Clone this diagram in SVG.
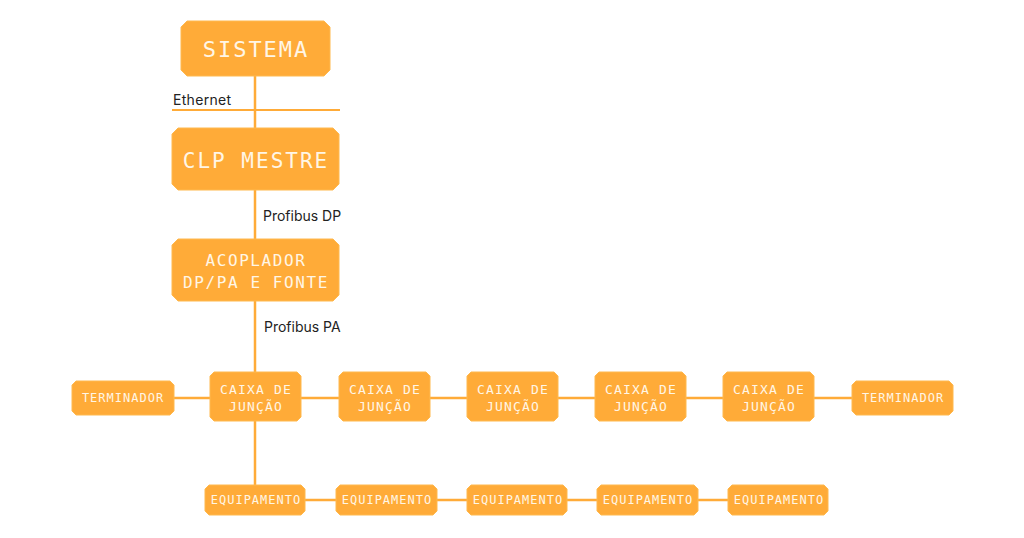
<svg xmlns="http://www.w3.org/2000/svg" width="1024" height="538" viewBox="0 0 1024 538">
<style>
.n{fill:#FFAB38;stroke:#FFB94F;stroke-width:1}
.t{font-family:"DejaVu Sans Mono","Liberation Mono",monospace;fill:#FFF6E6;text-anchor:middle}
.c{stroke:#FFAB38;stroke-width:2.5;fill:none}
.l{font-family:Inter,"Noto Sans",sans-serif;font-size:14px;fill:#222}
</style>
<rect width="1024" height="538" fill="#fff"/>
<g id="connectors">
<path class="c" d="M255 76V373M255 421V486M174 398H852M305 500H728"/>
<path d="M172 110H340" stroke="#FFAB38" stroke-width="2"/>
</g>
<g class="l">
<text x="173" y="105" letter-spacing="0.3">Ethernet</text>
<text x="263" y="221">Profibus DP</text>
<text x="264" y="332">Profibus PA</text>
</g>
<g id="sistema"><path class="n" d="M187 21H324L330 27V70L324 76H187L181 70V27Z"/><text class="t" x="256" y="57" font-size="22" letter-spacing="2">SISTEMA</text></g>
<g id="clp"><path class="n" d="M178 128H333L339 134V184L333 190H178L172 184V134Z"/><text class="t" x="256" y="168" font-size="21" letter-spacing="2">CLP MESTRE</text></g>
<g id="acoplador"><path class="n" d="M178 239H333L339 245V295L333 301H178L172 295V245Z"/><text class="t" font-size="16" letter-spacing="1.6"><tspan x="256" y="266">ACOPLADOR</tspan><tspan x="256" y="288">DP/PA E FONTE</tspan></text></g>
<g id="term1"><path class="n" d="M76 381H170L174 385V411L170 415H76L72 411V385Z"/><text class="t" x="123" y="402" font-size="12" letter-spacing="1">TERMINADOR</text></g>
<g id="cx1"><path class="n" d="M214 372H297L301 376V417L297 421H214L210 417V376Z"/><text class="t" font-size="13" letter-spacing="1.2"><tspan x="256" y="394">CAIXA DE</tspan><tspan x="256" y="411">JUNÇÃO</tspan></text></g>
<g id="cx2"><path class="n" d="M343 372H426L430 376V417L426 421H343L339 417V376Z"/><text class="t" font-size="13" letter-spacing="1.2"><tspan x="385" y="394">CAIXA DE</tspan><tspan x="385" y="411">JUNÇÃO</tspan></text></g>
<g id="cx3"><path class="n" d="M471 372H554L558 376V417L554 421H471L467 417V376Z"/><text class="t" font-size="13" letter-spacing="1.2"><tspan x="513" y="394">CAIXA DE</tspan><tspan x="513" y="411">JUNÇÃO</tspan></text></g>
<g id="cx4"><path class="n" d="M599 372H682L686 376V417L682 421H599L595 417V376Z"/><text class="t" font-size="13" letter-spacing="1.2"><tspan x="641" y="394">CAIXA DE</tspan><tspan x="641" y="411">JUNÇÃO</tspan></text></g>
<g id="cx5"><path class="n" d="M727 372H810L814 376V417L810 421H727L723 417V376Z"/><text class="t" font-size="13" letter-spacing="1.2"><tspan x="769" y="394">CAIXA DE</tspan><tspan x="769" y="411">JUNÇÃO</tspan></text></g>
<g id="term2"><path class="n" d="M856 381H949L953 385V411L949 415H856L852 411V385Z"/><text class="t" x="903" y="402" font-size="12" letter-spacing="1">TERMINADOR</text></g>
<g id="eq1"><path class="n" d="M209 485H301L305 489V511L301 515H209L205 511V489Z"/><text class="t" x="256" y="504" font-size="12" letter-spacing="1">EQUIPAMENTO</text></g>
<g id="eq2"><path class="n" d="M340 485H433L437 489V511L433 515H340L336 511V489Z"/><text class="t" x="387" y="504" font-size="12" letter-spacing="1">EQUIPAMENTO</text></g>
<g id="eq3"><path class="n" d="M471 485H563L567 489V511L563 515H471L467 511V489Z"/><text class="t" x="518" y="504" font-size="12" letter-spacing="1">EQUIPAMENTO</text></g>
<g id="eq4"><path class="n" d="M601 485H694L698 489V511L694 515H601L597 511V489Z"/><text class="t" x="648" y="504" font-size="12" letter-spacing="1">EQUIPAMENTO</text></g>
<g id="eq5"><path class="n" d="M732 485H824L828 489V511L824 515H732L728 511V489Z"/><text class="t" x="779" y="504" font-size="12" letter-spacing="1">EQUIPAMENTO</text></g>
</svg>
